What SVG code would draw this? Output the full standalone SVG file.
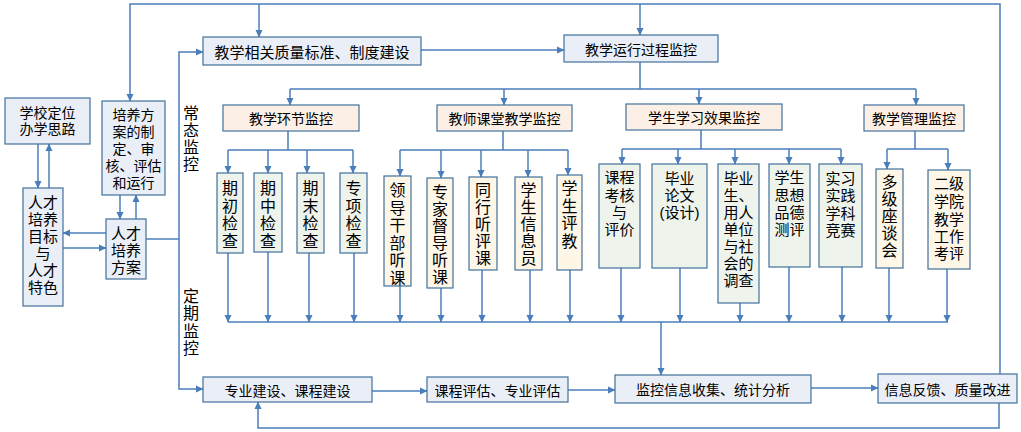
<svg xmlns="http://www.w3.org/2000/svg" width="1021" height="432" viewBox="0 0 1021 432">
<style>
text{font-family:"Noto Sans CJK SC","Noto Sans",sans-serif;fill:#000;text-anchor:middle;dominant-baseline:central}
.ml{font-family:"Liberation Sans","Noto Sans CJK SC",sans-serif}
.t14{font-size:14px}.t15{font-size:15px}.t16{font-size:16px}
.v{writing-mode:vertical-rl;text-anchor:start}
.box{stroke:#41719C;stroke-width:1.2}
.blue{fill:#E9EEF7}.peach{fill:#FCEFE6}.cream{fill:#FEF6E6}.green{fill:#EEF3EC}
.ln{fill:none;stroke:#4A7EBB;stroke-width:1.5}
.ar{marker-end:url(#ah)}
</style>
<defs>
<marker id="ah" markerWidth="8" markerHeight="8" refX="7" refY="4" orient="auto" markerUnits="userSpaceOnUse">
<path d="M0,0.5 L7.5,4 L0,7.5 z" fill="#4A7EBB"/>
</marker>
</defs>
<rect width="1021" height="432" fill="#fff"/>
<g id="connectors">
<path class="ln ar" d="M1000,374 V4 H130 V101"/>
<path class="ln ar" d="M259,4 V37"/>
<path class="ln ar" d="M640,4 V35"/>
<path class="ln ar" d="M38,144 V188"/>
<path class="ln ar" d="M49,188 V144"/>
<path class="ln ar" d="M120,195 V219"/>
<path class="ln ar" d="M136,219 V195"/>
<path class="ln ar" d="M106,233 H63"/>
<path class="ln ar" d="M63,248 H106"/>
<path class="ln" d="M146,239 H179"/>
<path class="ln ar" d="M179,239 V52 H203"/>
<path class="ln ar" d="M179,239 V389 H203"/>
<path class="ln ar" d="M421,50 H564"/>
<path class="ln" d="M640,62 V89 M290,89 H916"/>
<path class="ln ar" d="M290,89 V105"/>
<path class="ln ar" d="M504,89 V105"/>
<path class="ln ar" d="M699,89 V104"/>
<path class="ln ar" d="M916,89 V105"/>
<path class="ln" d="M288,131 V150 M228,150 H353"/>
<path class="ln ar" d="M228,150 V173"/>
<path class="ln ar" d="M268,150 V173"/>
<path class="ln ar" d="M307,150 V173"/>
<path class="ln ar" d="M353,150 V173"/>
<path class="ln" d="M503,131 V150 M400,150 H568"/>
<path class="ln ar" d="M400,150 V176"/>
<path class="ln ar" d="M441,150 V178"/>
<path class="ln ar" d="M481,150 V177"/>
<path class="ln ar" d="M528,150 V177"/>
<path class="ln ar" d="M568,150 V175"/>
<path class="ln" d="M701,130 V149 M622,149 H841"/>
<path class="ln ar" d="M622,149 V164"/>
<path class="ln ar" d="M678,149 V164"/>
<path class="ln ar" d="M735,149 V164"/>
<path class="ln ar" d="M789,149 V164"/>
<path class="ln ar" d="M841,149 V164"/>
<path class="ln" d="M915,131 V149 M887,149 H948"/>
<path class="ln ar" d="M887,149 V169"/>
<path class="ln ar" d="M948,149 V170"/>
<path class="ln" d="M228,322 H948"/>
<path class="ln ar" d="M228,253 V322"/>
<path class="ln ar" d="M268,252 V322"/>
<path class="ln ar" d="M309,253 V322"/>
<path class="ln ar" d="M354,253 V322"/>
<path class="ln ar" d="M400,286 V322"/>
<path class="ln ar" d="M441,288 V322"/>
<path class="ln ar" d="M482,270 V322"/>
<path class="ln ar" d="M530,270 V322"/>
<path class="ln ar" d="M570,270 V322"/>
<path class="ln ar" d="M621,268 V322"/>
<path class="ln ar" d="M680,268 V322"/>
<path class="ln ar" d="M740,303 V322"/>
<path class="ln ar" d="M789,267 V322"/>
<path class="ln ar" d="M842,267 V322"/>
<path class="ln ar" d="M889,268 V322"/>
<path class="ln ar" d="M947,269 V322"/>
<path class="ln ar" d="M661,322 V375"/>
<path class="ln ar" d="M372,391 H427"/>
<path class="ln ar" d="M568,390 H615"/>
<path class="ln ar" d="M811,388 H878"/>
<path class="ln ar" d="M999,403 V428 H258 V402"/>
</g>
<g id="label-changtai"><text class="t16 v" x="191" y="105" letter-spacing="1">常态监控</text></g>
<g id="label-dingqi"><text class="t16 v" x="191" y="288" letter-spacing="1.3">定期监控</text></g>
<g id="n-xuexiao"><rect class="box blue" x="5" y="98" width="85" height="46"/><text class="t14 ml"><tspan x="47.5" y="113">学校定位</tspan><tspan x="47.5" y="129">办学思路</tspan></text></g>
<g id="n-mubiao"><rect class="box blue" x="23" y="188" width="40" height="118"/><text class="t15 ml"><tspan x="43" y="202">人才</tspan><tspan x="43" y="219">培养</tspan><tspan x="43" y="236">目标</tspan><tspan x="43" y="253">与</tspan><tspan x="43" y="270">人才</tspan><tspan x="43" y="287">特色</tspan></text></g>
<g id="n-zhiding"><rect class="box blue" x="102" y="101" width="63" height="94"/><text class="t14 ml"><tspan x="133.5" y="115">培养方</tspan><tspan x="133.5" y="132">案的制</tspan><tspan x="133.5" y="149">定、审</tspan><tspan x="133.5" y="166">核、评估</tspan><tspan x="133.5" y="183">和运行</tspan></text></g>
<g id="n-fangan"><rect class="box blue" x="106" y="219" width="40" height="60"/><text class="t15 ml"><tspan x="126" y="233">人才</tspan><tspan x="126" y="250">培养</tspan><tspan x="126" y="267">方案</tspan></text></g>
<g id="n-biaozhun"><rect class="box blue" x="203" y="37" width="218" height="28"/><text class="t15" x="312" y="51">教学相关质量标准、制度建设</text></g>
<g id="n-yunxing"><rect class="box blue" x="564" y="35" width="154" height="27"/><text class="t14" x="641" y="48.5">教学运行过程监控</text></g>
<g id="n-huanjie"><rect class="box peach" x="223" y="105" width="136" height="26"/><text class="t14" x="291" y="118">教学环节监控</text></g>
<g id="n-ketang"><rect class="box peach" x="437" y="105" width="135" height="26"/><text class="t14" x="504.5" y="118">教师课堂教学监控</text></g>
<g id="n-xuexi"><rect class="box peach" x="626" y="104" width="156" height="26"/><text class="t14" x="704" y="117">学生学习效果监控</text></g>
<g id="n-guanli"><rect class="box peach" x="864" y="105" width="100" height="26"/><text class="t14" x="914" y="118">教学管理监控</text></g>
<g id="n-qichu"><rect class="box green" x="217" y="173" width="26" height="80"/><text class="t16 v" x="230" y="180" letter-spacing="1.5">期初检查</text></g>
<g id="n-qizhong"><rect class="box green" x="254" y="173" width="28" height="79"/><text class="t16 v" x="268" y="180" letter-spacing="1.5">期中检查</text></g>
<g id="n-qimo"><rect class="box green" x="297" y="173" width="27" height="80"/><text class="t16 v" x="310.5" y="180" letter-spacing="1.5">期末检查</text></g>
<g id="n-zhuanxiang"><rect class="box green" x="340" y="173" width="27" height="80"/><text class="t16 v" x="353.5" y="180" letter-spacing="1.5">专项检查</text></g>
<g id="n-lingdao"><rect class="box cream" x="384" y="176" width="27" height="110"/><text class="t16 v" x="397.5" y="182" letter-spacing="1.5">领导干部听课</text></g>
<g id="n-duodao"><rect class="box cream" x="427" y="178" width="26" height="110"/><text class="t16 v" x="440" y="184" letter-spacing="1">专家督导听课</text></g>
<g id="n-tonghang"><rect class="box cream" x="469" y="177" width="28" height="93"/><text class="t16 v" x="483" y="182" letter-spacing="1">同行听评课</text></g>
<g id="n-xinxiyuan"><rect class="box cream" x="515" y="177" width="27" height="93"/><text class="t16 v" x="528.5" y="182" letter-spacing="1">学生信息员</text></g>
<g id="n-pingjiao"><rect class="box cream" x="557" y="175" width="25" height="95"/><text class="t16 v" x="569.5" y="180" letter-spacing="1.5">学生评教</text></g>
<g id="n-kaohe"><rect class="box green" x="599" y="164" width="41" height="104"/><text class="t15 ml"><tspan x="619.5" y="177">课程</tspan><tspan x="619.5" y="195">考核</tspan><tspan x="619.5" y="212">与</tspan><tspan x="619.5" y="229">评价</tspan></text></g>
<g id="n-lunwen"><rect class="box green" x="652" y="164" width="55" height="104"/><text class="t15 ml"><tspan x="679.5" y="178">毕业</tspan><tspan x="679.5" y="195">论文</tspan><tspan x="679.5" y="212">(设计)</tspan></text></g>
<g id="n-diaocha"><rect class="box green" x="718" y="164" width="41" height="139"/><text class="t15 ml"><tspan x="738.5" y="178">毕业</tspan><tspan x="738.5" y="195">生、</tspan><tspan x="738.5" y="212">用人</tspan><tspan x="738.5" y="229">单位</tspan><tspan x="738.5" y="246">与社</tspan><tspan x="738.5" y="263">会的</tspan><tspan x="738.5" y="280">调查</tspan></text></g>
<g id="n-pinde"><rect class="box green" x="769" y="164" width="41" height="103"/><text class="t15 ml"><tspan x="789.5" y="177">学生</tspan><tspan x="789.5" y="195">思想</tspan><tspan x="789.5" y="212">品德</tspan><tspan x="789.5" y="229">测评</tspan></text></g>
<g id="n-shixi"><rect class="box green" x="819" y="164" width="43" height="103"/><text class="t15 ml"><tspan x="840.5" y="178">实习</tspan><tspan x="840.5" y="195">实践</tspan><tspan x="840.5" y="213">学科</tspan><tspan x="840.5" y="230">竞赛</tspan></text></g>
<g id="n-zuotan"><rect class="box cream" x="876" y="169" width="27" height="99"/><text class="t16 v" x="889.5" y="174" letter-spacing="1">多级座谈会</text></g>
<g id="n-kaoping"><rect class="box cream" x="928" y="170" width="42" height="99"/><text class="t15 ml"><tspan x="949" y="183">二级</tspan><tspan x="949" y="201">学院</tspan><tspan x="949" y="219">教学</tspan><tspan x="949" y="236">工作</tspan><tspan x="949" y="253">考评</tspan></text></g>
<g id="n-zhuanye"><rect class="box blue" x="203" y="377" width="169" height="25"/><text class="t14" x="287.5" y="390">专业建设、课程建设</text></g>
<g id="n-pinggu"><rect class="box blue" x="427" y="377" width="141" height="25"/><text class="t14" x="497.5" y="390">课程评估、专业评估</text></g>
<g id="n-jiankong"><rect class="box blue" x="615" y="375" width="196" height="28"/><text class="t14" x="713" y="389">监控信息收集、统计分析</text></g>
<g id="n-fankui"><rect class="box blue" x="878" y="374" width="139" height="29"/><text class="t14" x="947.5" y="388.5">信息反馈、质量改进</text></g>
</svg>
